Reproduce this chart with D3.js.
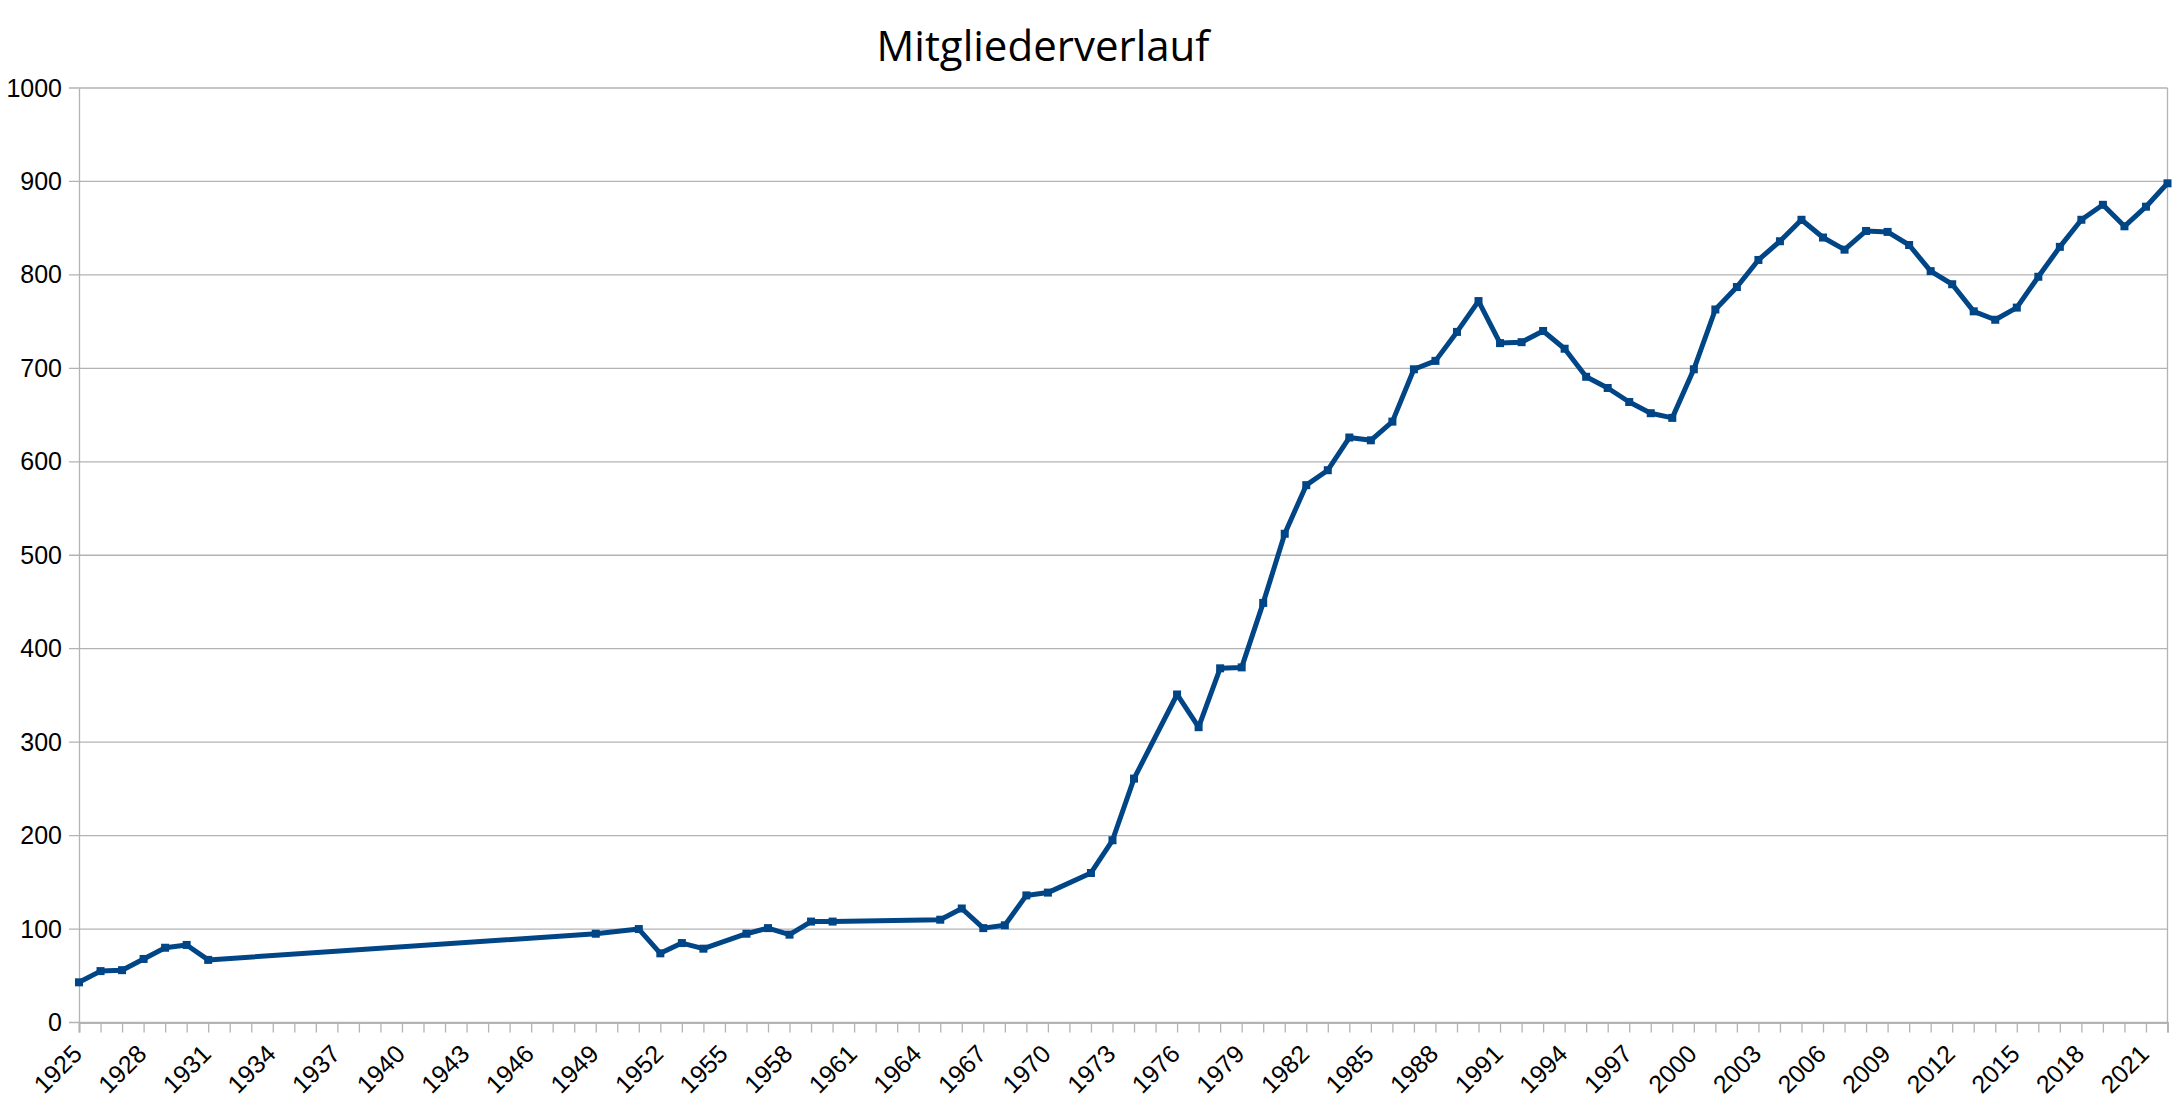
<!DOCTYPE html>
<html>
<head>
<meta charset="utf-8">
<script src="https://cdn.jsdelivr.net/npm/d3@7"></script>
<style>
  body { margin: 0; background: #fff; }
  svg { display: block; }
</style>
</head>
<body>
<div id="chart"></div>
<script>
// Mitgliederverlauf, Werte
var years = [1925, 1926, 1927, 1928, 1929, 1930, 1931, 1949, 1951, 1952,
    1953, 1954, 1956, 1957, 1958, 1959, 1960, 1965, 1966, 1967,
    1968, 1969, 1970, 1972, 1973, 1974, 1976, 1977, 1978, 1979,
    1980, 1981, 1982, 1983, 1984, 1985, 1986, 1987, 1988, 1989,
    1990, 1991, 1992, 1993, 1994, 1995, 1996, 1997, 1998, 1999,
    2000, 2001, 2002, 2003, 2004, 2005, 2006, 2007, 2008, 2009,
    2010, 2011, 2012, 2013, 2014, 2015, 2016, 2017, 2018, 2019,
    2020, 2021, 2022];
var members = [43, 55, 56, 68, 80, 83, 67, 95, 100, 74,
    85, 79, 95, 101, 94, 108, 108, 110, 122, 101,
    104, 136, 139, 160, 195, 261, 351, 316, 379, 380,
    449, 523, 575, 591, 626, 623, 643, 699, 708, 739,
    772, 727, 728, 740, 721, 691, 679, 664, 652, 647,
    699, 763, 787, 816, 836, 859, 840, 827, 847, 846,
    832, 804, 790, 761, 752, 765, 798, 830, 859, 875,
    852, 873, 898];
var yTicks = [0, 100, 200, 300, 400, 500, 600, 700, 800, 900, 1000];
var yearRange = [1925, 2022];
var labelStep = 3;
var title = "Mitgliederverlauf";

var W = 2173, H = 1100;
var margin = {top: 88, right: 5.5, bottom: 77.5, left: 79};
var lineColor = "#004586", gridColor = "#b3b3b3";
var labelFont = "Liberation Sans, Arial, sans-serif";

var svg = d3.select("#chart").append("svg")
    .attr("width", W)
    .attr("height", H);

var x = d3.scaleLinear()
    .domain(yearRange)
    .range([margin.left, W - margin.right]);
var y = d3.scaleLinear()
    .domain([0, 1000])
    .range([H - margin.bottom, margin.top]);

// gridlines
svg.append("g")
    .selectAll("line")
    .data(yTicks)
    .enter()
    .append("line")
    .attr("x1", margin.left - 10)
    .attr("x2", W - margin.right)
    .attr("y1", d => y(d))
    .attr("y2", d => y(d))
    .attr("stroke", gridColor)
    .attr("stroke-width", 1.3);

// y axis
var yAxis = d3.axisLeft(y)
    .tickValues(yTicks)
    .tickSize(0)
    .tickPadding(17)
    .tickFormat(d3.format("d"));
var gy = svg.append("g")
    .attr("transform", "translate(" + margin.left + ",0)")
    .call(yAxis);
gy.select(".domain").attr("stroke", gridColor).attr("stroke-width", 1.3);
gy.selectAll("text")
    .attr("font-family", labelFont)
    .attr("font-size", 25)
    .attr("fill", "#000");

// right border
svg.append("line")
    .attr("x1", W - margin.right)
    .attr("x2", W - margin.right)
    .attr("y1", y(1000))
    .attr("y2", y(0))
    .attr("stroke", gridColor)
    .attr("stroke-width", 1.3);

// x axis: tick every year, label every 3rd
var allYears = d3.range(yearRange[0], yearRange[1] + 1);
var xAxis = d3.axisBottom(x)
    .tickValues(allYears)
    .tickSize(10)
    .tickFormat(d => (d - yearRange[0]) % labelStep === 0 ? d : "");
var gx = svg.append("g")
    .attr("transform", "translate(0," + y(0) + ")")
    .call(xAxis);
gx.select(".domain").attr("stroke", gridColor).attr("stroke-width", 2);
gx.selectAll("line").attr("stroke", gridColor).attr("stroke-width", 1.3);
gx.selectAll("text")
    .attr("font-family", labelFont)
    .attr("font-size", 25)
    .attr("fill", "#000")
    .attr("text-anchor", "end")
    .attr("y", 0)
    .attr("dy", 0)
    .attr("transform", "translate(4,33) rotate(-45)");

// line
var line = d3.line()
    .x((d, i) => x(years[i]))
    .y(d => y(d));
svg.append("path")
    .datum(members)
    .attr("d", line)
    .attr("fill", "none")
    .attr("stroke", lineColor)
    .attr("stroke-width", 5)
    .attr("stroke-linejoin", "round");

// markers
var ms = 8;
svg.append("g")
    .selectAll("rect")
    .data(members)
    .enter()
    .append("rect")
    .attr("x", (d, i) => x(years[i]) - ms / 2)
    .attr("y", d => y(d) - ms / 2)
    .attr("width", ms)
    .attr("height", ms)
    .attr("fill", lineColor);

// title
svg.append("text")
    .attr("x", 1043)
    .attr("y", 61)
    .attr("text-anchor", "middle")
    .attr("font-family", "Open Sans, sans-serif")
    .attr("font-size", 42)
    .attr("fill", "#000")
    .text(title);
</script>
</body>
</html>
